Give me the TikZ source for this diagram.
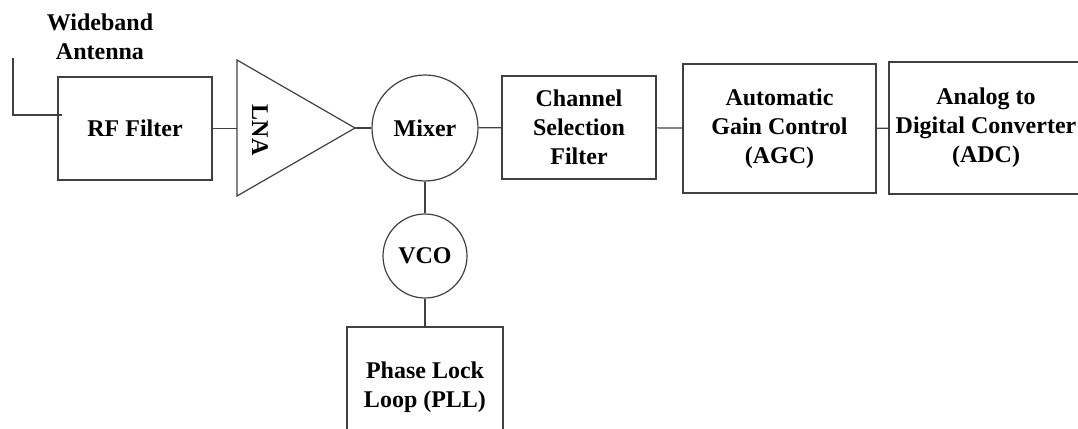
\documentclass[tikz,border=0pt]{standalone}
\usepackage{fontspec}
\setmainfont{Liberation Serif}
\usetikzlibrary{calc}

\tikzset{
  txt/.style={font=\bfseries\fontsize{24}{29}\selectfont, align=center, inner sep=0pt},
  blockbox/.style={txt, draw=black!75, line width=1.2pt},
  roundbox/.style={txt, draw=black!75, line width=1.2pt, circle},
  wire/.style={draw=black!75, line width=1.2pt}
}

\begin{document}
\begin{tikzpicture}[x=1pt,y=-1pt]

\clip (0,0) rectangle (1078,428);

% antenna and front end
\node[txt] (antlabel) at (100,37) {Wideband\\Antenna};
\coordinate (antTop) at (13,58);
\coordinate (antIn) at (62,115);
\node[blockbox, minimum width=154pt, minimum height=103pt] (rf) at (135,128.5) {RF Filter};

\coordinate (lnaIn) at (237,128);
\coordinate (lnaOut) at (355,128);
\draw[wire] (237,60) -- (lnaOut) -- (237,196) -- cycle;
\node[txt, rotate=-90] (lna) at (260,130) {LNA};

\node[roundbox, minimum size=106pt] (mixer) at (425,128) {Mixer};
\node[blockbox, minimum width=154pt, minimum height=103pt] (chan) at (579,127.5) {Channel\\Selection\\Filter};
\node[blockbox, minimum width=193pt, minimum height=129pt] (agc) at (779.5,128.5) {Automatic\\Gain Control\\(AGC)};
\node[blockbox, minimum width=194pt, minimum height=132pt] (adc) at (986,128) {Analog to\\Digital Converter\\(ADC)};

% local oscillator
\node[roundbox, minimum size=84pt] (vco) at (425,256) {VCO};
\node[blockbox, minimum width=156pt, minimum height=120pt] (pll) at (425,387) {Phase Lock\\Loop (PLL)};

\draw[wire] (antTop) |- (antIn);
\draw[wire] (rf.east) -- (rf.east -| lnaIn);
\draw[wire] (lnaOut) -- (mixer);
\draw[wire] (mixer) -- (chan);
\draw[wire] (chan) -- (agc);
\draw[wire] (agc) -- (adc);
\draw[wire] (mixer) -- (vco);
\draw[wire] (vco) -- (pll);

\end{tikzpicture}
\end{document}
